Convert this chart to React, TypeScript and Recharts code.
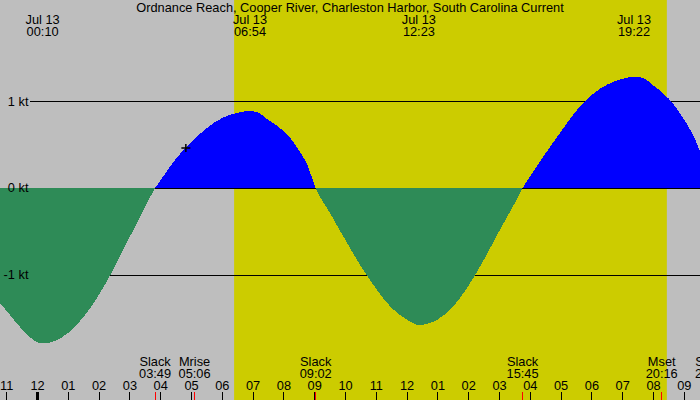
import React from 'react';
import {
  ComposedChart,
  Area,
  XAxis,
  YAxis,
  ReferenceArea,
  ReferenceLine,
  ReferenceDot,
} from 'recharts';

// Tidal current, hours after midnight of Jul 13 (negative = previous evening)
const hours = [
  -1.25, -1.0, -0.5, 0.0, 0.19, 0.5, 1.0, 1.5, 2.0, 2.5, 3.0, 3.5, 3.82,
  4.0, 4.5, 5.0, 5.5, 6.0, 6.5, 6.9, 7.2, 7.5, 8.0, 8.25, 8.5, 8.75, 9.03,
  9.5, 10.0, 10.5, 11.0, 11.5, 12.0, 12.38, 12.75, 13.0, 13.5, 14.0, 14.5,
  15.0, 15.5, 15.75, 16.0, 16.5, 17.0, 17.5, 18.0, 18.5, 19.0, 19.37, 19.7,
  20.0, 20.5, 21.0, 21.5, 21.87,
];

// Current speed in knots (flood positive, ebb negative)
const speeds = [
  -1.31, -1.414, -1.625, -1.773, -1.785, -1.767, -1.665, -1.48, -1.225,
  -0.91, -0.56, -0.215, 0, 0.09, 0.34, 0.53, 0.69, 0.805, 0.864, 0.885,
  0.86, 0.78, 0.652, 0.555, 0.425, 0.275, 0, -0.29, -0.6, -0.9, -1.16,
  -1.38, -1.515, -1.575, -1.55, -1.51, -1.36, -1.12, -0.82, -0.49, -0.17,
  0, 0.135, 0.4, 0.65, 0.89, 1.07, 1.19, 1.255, 1.28, 1.258, 1.178, 1.025,
  0.785, 0.43, 0,
];

const hourTicks = [
  -1, 0, 1, 2, 3, 4, 5, 6, 7, 8, 9, 10, 11, 12, 13, 14, 15, 16, 17, 18, 19,
  20, 21,
];
const hourLabels = [
  '11', '12', '01', '02', '03', '04', '05', '06', '07', '08', '09', '10',
  '11', '12', '01', '02', '03', '04', '05', '06', '07', '08', '09',
];

const levelTicks = [-1, 0, 1];
const levelLabels = ['-1 kt', '0 kt', '1 kt'];

// Maximum flood / ebb times
const extremeDates = ['Jul 13', 'Jul 13', 'Jul 13', 'Jul 13'];
const extremeClocks = ['00:10', '06:54', '12:23', '19:22'];

// Slack water and moon events
const eventNames = ['Slack', 'Mrise', 'Slack', 'Slack', 'Mset', 'Slack'];
const eventClocks = ['03:49', '05:06', '09:02', '15:45', '20:16', '21:52'];

const daylight = ['06:23', '20:26'];

const markerClock = '04:49';
const markerSpeed = 0.46;

const title =
  'Ordnance Reach, Cooper River, Charleston Harbor, South Carolina Current';

const toHours = (clock: string) => {
  const [h, m] = clock.split(':').map(Number);
  return h + m / 60;
};

const data = hours.map((h, i) => ({ h, v: speeds[i] }));
const extremeHours = extremeClocks.map(toHours);
const eventHours = eventClocks.map(toHours);
const bottomTicks = [...hourTicks, ...eventHours].sort((a, b) => a - b);

const X_DOMAIN: [number, number] = [-1.2175, 21.51];
const Y_DOMAIN: [number, number] = [-2.437, 2.161];
const GRID_START = -0.24;

const FONT = '"Liberation Sans", Arial, Helvetica, sans-serif';
const FONT_SIZE = 12.8;

const maxV = Math.max(...speeds);
const minV = Math.min(...speeds);
const zeroOffset = maxV / (maxV - minV);

const textProps = {
  textAnchor: 'middle' as const,
  fontFamily: FONT,
  fontSize: FONT_SIZE,
  fill: '#000',
};

// Bottom axis: hour marks plus slack / moon events
const BottomTick = ({ x, y, payload }: any) => {
  const hi = hourTicks.indexOf(payload.value);
  if (hi >= 0) {
    return (
      <g>
        <line
          x1={x}
          x2={x}
          y1={y - 8}
          y2={y}
          stroke="#000"
          strokeWidth={payload.value === 0 ? 3 : 1}
          shapeRendering="crispEdges"
        />
        <text x={x} y={y - 10} {...textProps}>
          {hourLabels[hi]}
        </text>
      </g>
    );
  }
  const ei = eventHours.indexOf(payload.value);
  return (
    <g>
      <line
        x1={x}
        x2={x}
        y1={y - 8}
        y2={y}
        stroke="#ff0000"
        strokeWidth={1}
        shapeRendering="crispEdges"
      />
      <text x={x} y={y - 34} {...textProps}>
        {eventNames[ei]}
      </text>
      <text x={x} y={y - 22} {...textProps}>
        {eventClocks[ei]}
      </text>
    </g>
  );
};

const ExtremeTick = ({ x, y, payload }: any) => {
  const i = extremeHours.indexOf(payload.value);
  return (
    <g>
      <text x={x} y={y + 24} {...textProps}>
        {extremeDates[i]}
      </text>
      <text x={x} y={y + 36} {...textProps}>
        {extremeClocks[i]}
      </text>
    </g>
  );
};

const LevelTick = ({ y, payload }: any) => {
  const i = levelTicks.indexOf(payload.value);
  return (
    <text {...textProps} x={28.5} y={y} dy={4.5} textAnchor="end">
      {levelLabels[i]}
    </text>
  );
};

// Grid line drawn on the pixel row just below the level
const GridLine = ({ x1, y1, x2, y2 }: any) => (
  <line
    x1={x1}
    y1={y1 + 0.5}
    x2={x2}
    y2={y2 + 0.5}
    stroke="#000"
    strokeWidth={1}
    shapeRendering="crispEdges"
  />
);

const Plus = ({ cx, cy }: any) => (
  <path
    d={`M${cx - 4.5},${cy}h9M${cx},${cy - 4}v8`}
    stroke="#000"
    strokeWidth={1.5}
    fill="none"
  />
);

export default function App() {
  return (
    <div
      style={{
        position: 'absolute',
        left: 0,
        top: 0,
        width: 700,
        height: 400,
        background: '#bebebe',
        overflow: 'hidden',
      }}
    >
      <ComposedChart
        width={700}
        height={400}
        data={data}
        margin={{ top: 0, right: 0, bottom: 0, left: 0 }}
      >
        <defs>
          <linearGradient id="flowFill" x1="0" y1="0" x2="0" y2="1">
            <stop offset={0} stopColor="#0000ff" />
            <stop offset={zeroOffset} stopColor="#0000ff" />
            <stop offset={zeroOffset} stopColor="#2e8b57" />
            <stop offset={1} stopColor="#2e8b57" />
          </linearGradient>
        </defs>

        <XAxis
          dataKey="h"
          type="number"
          domain={X_DOMAIN}
          allowDataOverflow
          ticks={bottomTicks}
          interval={0}
          mirror
          height={30}
          tickSize={0}
          tickMargin={0}
          tickLine={false}
          axisLine={false}
          tick={<BottomTick />}
        />
        <XAxis
          xAxisId="extremes"
          orientation="top"
          dataKey="h"
          type="number"
          domain={X_DOMAIN}
          allowDataOverflow
          ticks={extremeHours}
          interval={0}
          mirror
          height={30}
          tickSize={0}
          tickMargin={0}
          tickLine={false}
          axisLine={false}
          tick={<ExtremeTick />}
        />

        <ReferenceArea
          x1={toHours(daylight[0])}
          x2={toHours(daylight[1])}
          fill="#cccc00"
          fillOpacity={1}
          stroke="none"
          ifOverflow="hidden"
          zIndex={-300}
        />

        {levelTicks.map((v) => (
          <ReferenceLine
            key={v}
            segment={[
              { x: GRID_START, y: v },
              { x: X_DOMAIN[1], y: v },
            ]}
            shape={<GridLine />}
            ifOverflow="hidden"
            zIndex={-200}
          />
        ))}

        <Area
          type="monotone"
          dataKey="v"
          stroke="none"
          fill="url(#flowFill)"
          fillOpacity={1}
          baseValue={0}
          dot={false}
          activeDot={false}
          shapeRendering="crispEdges"
          isAnimationActive={false}
        />

        <YAxis
          type="number"
          domain={Y_DOMAIN}
          allowDataOverflow
          ticks={levelTicks}
          interval={0}
          width={30}
          mirror
          tickSize={0}
          tickLine={false}
          axisLine={false}
          tick={<LevelTick />}
        />

        <ReferenceDot
          x={toHours(markerClock)}
          y={markerSpeed}
          r={5}
          shape={<Plus />}
          ifOverflow="visible"
          zIndex={700}
        />

        <text {...textProps} x={350} y={12}>
          {title}
        </text>
      </ComposedChart>
    </div>
  );
}
